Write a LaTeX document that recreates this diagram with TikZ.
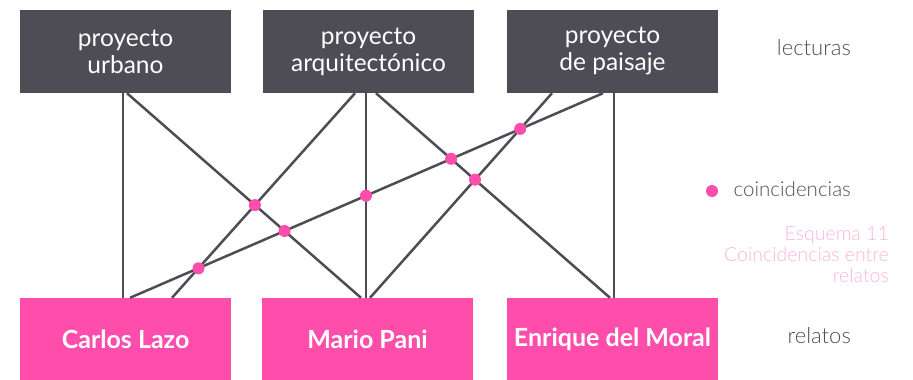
\documentclass[tikz,border=0pt]{standalone}
\usepackage{fontspec}
\setmainfont{Lato}
\newfontfamily\lightfont{Lato Light}
\definecolor{boxgray}{HTML}{4E4D55}
\definecolor{relpink}{HTML}{FF4DAC}
\definecolor{notepink}{HTML}{FFB3D9}
\begin{document}
\begin{tikzpicture}%
	[	x=1pt, y=-1pt,
	lectura/.style={fill=boxgray, text=white, minimum width=211pt, minimum height=83pt, inner sep=0pt, align=center, font=\fontsize{24.5}{27}\selectfont},
	relato/.style={fill=relpink, text=white, minimum width=211pt, minimum height=82pt, inner sep=0pt, font=\bfseries\fontsize{25}{28}\selectfont},
	edge/.style={color=boxgray, line width=2.5pt},
	coin/.style={circle, fill=relpink, inner sep=0pt, minimum size=12pt},
	tag/.style={anchor=east, inner sep=0pt, text=boxgray, font=\lightfont\fontsize{22}{25}\selectfont},
	note/.style={anchor=north east, inner sep=0pt, align=right, text=notepink, font=\lightfont\fontsize{19.5}{21}\selectfont}]

\useasboundingbox (0,0) rectangle (913,380);

\node[lectura] (pu) at (125.5,51.5) {proyecto\\urbano};
\node[lectura] (pa) at (368.5,51.5) {proyecto\\arquitectónico};
\node[lectura] (pp) at (612.5,51.5) {proyecto\\de paisaje};

\node[relato] (cl) at (125.5,339) {Carlos Lazo};
\node[relato] (mp) at (367.5,339) {Mario Pani};
\node[relato] (em) at (612.5,339) {Enrique del Moral};

\draw[edge] (pu.south -| 123,0) -- (cl.north -| 123,0);
\draw[edge] (pu.south -| 127,0) -- (mp.north -| 361,0);
\draw[edge] (pa.south -| 355,0) -- (cl.north -| 172,0);
\draw[edge] (pa.south -| 366,0) -- (mp.north -| 366,0);
\draw[edge] (pa.south -| 376,0) -- (em.north -| 610,0);
\draw[edge] (pp.south -| 552,0) -- (mp.north -| 370,0);
\draw[edge] (pp.south -| 603,0) -- (cl.north -| 130,0);
\draw[edge] (pp.south -| 614,0) -- (em.north -| 614,0);

\node[coin] (c1) at (254.9,205.1) {};
\node[coin] (c2) at (284.5,231.0) {};
\node[coin] (c3) at (198.5,268.3) {};
\node[coin] (c4) at (366.0,195.7) {};
\node[coin] (c5) at (451.1,158.8) {};
\node[coin] (c6) at (475.0,179.7) {};
\node[coin] (c7) at (520.2,128.9) {};

\node[tag] (lect) at (851,48) {lecturas};
\node[coin] (mark) at (712,191) {};
\node[tag, font=\lightfont\fontsize{20.5}{25}\selectfont] (coinc) at (851,189) {coincidencias};
\node[note] (esq) at (889,226) {Esquema 11\\Coincidencias entre\\relatos};
\node[tag] (rel) at (851,336) {relatos};
\end{tikzpicture}
\end{document}
